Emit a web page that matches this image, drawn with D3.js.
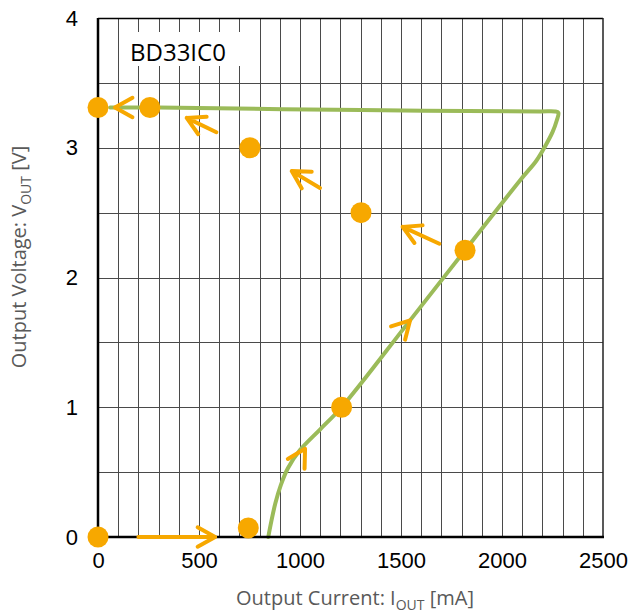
<!DOCTYPE html>
<html>
<head>
<meta charset="utf-8">
<script src="https://cdn.jsdelivr.net/npm/d3@7"></script>
<style>
  body { margin: 0; background: #fff; }
  svg { display: block; }
</style>
</head>
<body>
<div id="chart"></div>
<script>
// green trace (I_OUT mA, V_OUT V), drawn in sweep order
const traceI = [843, 858, 878, 905, 940, 1000, 1100, 1206, 1540, 1817, 2090, 2170, 2213, 2250, 2271, 2279, 2262, 2188, 1300, 300, 60]
const traceV = [0, 0.12, 0.26, 0.4, 0.53, 0.67, 0.83, 1.0, 1.66, 2.21, 2.75, 2.9, 3.01, 3.12, 3.21, 3.27, 3.28, 3.28, 3.29, 3.31, 3.31]

// orange measurement dots
const dotI = [0, 744, 1206, 1817, 1302, 752, 257, 0]
const dotV = [0, 0.07, 1.0, 2.21, 2.5, 3.0, 3.31, 3.31]

// arrows: from -> to (tip), shaft drawn or only the head
const arrowFrom = [[200, 0], [976, 0.55], [1478, 1.56], [180, 3.31], [586, 3.12], [1099, 2.69], [1690, 2.26]]
const arrowTo = [[580, 0], [1025, 0.68], [1545, 1.67], [84, 3.31], [439, 3.23], [959, 2.82], [1508, 2.39]]
const arrowShaft = [true, false, false, false, true, true, true]

const xTicks = [0, 500, 1000, 1500, 2000, 2500]
const yTicks = [0, 1, 2, 3, 4]
const label = 'BD33IC0'

const width = 630
const height = 615
const margin = { top: 18, left: 98, right: 27, bottom: 78 }
const w = width - margin.left - margin.right
const h = height - margin.top - margin.bottom

const green = '#9bbb59'
const orange = '#f7a800'

const svg = d3.select('#chart')
  .append('svg')
  .attr('width', width)
  .attr('height', height)

const g = svg.append('g')
  .attr('transform', `translate(${margin.left},${margin.top})`)

const x = d3.scaleLinear().domain([0, 2500]).range([0, w])
const y = d3.scaleLinear().domain([0, 4]).range([h, 0])

// grid
g.append('g')
  .selectAll('line')
  .data(d3.range(100, 2500, 100))
  .join('line')
  .attr('x1', d => Math.round(x(d)) + 0.5)
  .attr('x2', d => Math.round(x(d)) + 0.5)
  .attr('y1', 0)
  .attr('y2', h)
  .attr('stroke', '#4a4a4a')
  .attr('stroke-width', 1)

g.append('g')
  .selectAll('line')
  .data(d3.range(0.5, 4, 0.5))
  .join('line')
  .attr('x1', 0)
  .attr('x2', w)
  .attr('y1', d => Math.round(y(d)) + 0.5)
  .attr('y2', d => Math.round(y(d)) + 0.5)
  .attr('stroke', '#4a4a4a')
  .attr('stroke-width', 1)

// label box
g.append('rect')
  .attr('x', 21)
  .attr('y', 14)
  .attr('width', 121)
  .attr('height', 34)
  .attr('fill', '#fff')

g.append('text')
  .attr('x', 32)
  .attr('y', 43)
  .attr('font-family', 'Open Sans, sans-serif')
  .attr('font-size', 24)
  .attr('fill', '#000')
  .text(label)

// frame
g.append('line').attr('x1', 0).attr('x2', w).attr('y1', 0.5).attr('y2', 0.5)
  .attr('stroke', '#000').attr('stroke-width', 1.5)
g.append('line').attr('x1', w).attr('x2', w).attr('y1', 0).attr('y2', h)
  .attr('stroke', '#222').attr('stroke-width', 1.5)

// trace
const line = d3.line()
  .x((d, i) => x(traceI[i]))
  .y((d, i) => y(traceV[i]))
  .curve(d3.curveCatmullRom.alpha(0.5))

g.append('path')
  .datum(traceI)
  .attr('d', line)
  .attr('fill', 'none')
  .attr('stroke', green)
  .attr('stroke-width', 4)
  .attr('stroke-linecap', 'round')
  .attr('stroke-linejoin', 'round')

// axes lines
g.append('line').attr('x1', 0).attr('x2', 0).attr('y1', 0).attr('y2', h + 1)
  .attr('stroke', '#000').attr('stroke-width', 2.5)
g.append('line').attr('x1', -1).attr('x2', w + 1).attr('y1', h).attr('y2', h)
  .attr('stroke', '#000').attr('stroke-width', 2.5)

// arrows
const headLen = 20
const spread = 29 * Math.PI / 180
const arrows = g.append('g')
  .attr('fill', 'none')
  .attr('stroke', orange)
  .attr('stroke-width', 4)
  .attr('stroke-linecap', 'round')
  .attr('stroke-linejoin', 'round')

arrowTo.forEach((t, i) => {
  const f = arrowFrom[i]
  const tx = x(t[0]); const ty = y(t[1])
  const fx = x(f[0]); const fy = y(f[1])
  const back = Math.atan2(fy - ty, fx - tx)
  const a1 = [tx + headLen * Math.cos(back - spread), ty + headLen * Math.sin(back - spread)]
  const a2 = [tx + headLen * Math.cos(back + spread), ty + headLen * Math.sin(back + spread)]
  let d = `M${a1[0]},${a1[1]}L${tx},${ty}L${a2[0]},${a2[1]}`
  if (arrowShaft[i]) d += `M${fx},${fy}L${tx},${ty}`
  arrows.append('path').attr('d', d)
})

// dots
g.append('g')
  .selectAll('circle')
  .data(dotI)
  .join('circle')
  .attr('cx', (d, i) => x(dotI[i]))
  .attr('cy', (d, i) => y(dotV[i]))
  .attr('r', 10.5)
  .attr('fill', orange)

// tick labels
const xAxis = g.append('g')
  .attr('transform', `translate(0,${h})`)
  .call(d3.axisBottom(x).tickValues(xTicks).tickSize(0).tickPadding(15).tickFormat(d3.format('d')))
xAxis.select('.domain').remove()
xAxis.selectAll('text')
  .attr('font-family', 'Liberation Sans, Arial, sans-serif')
  .attr('font-size', 22)
  .attr('fill', '#000')

const yAxis = g.append('g')
  .call(d3.axisLeft(y).tickValues(yTicks).tickSize(0).tickPadding(20).tickFormat(d3.format('d')))
yAxis.select('.domain').remove()
yAxis.selectAll('text')
  .attr('font-family', 'Liberation Sans, Arial, sans-serif')
  .attr('font-size', 22)
  .attr('fill', '#000')

// axis titles
const xt = svg.append('text')
  .attr('x', 355)
  .attr('y', 605)
  .attr('text-anchor', 'middle')
  .attr('font-family', 'Open Sans, sans-serif')
  .attr('font-size', 20)
  .attr('fill', '#595959')
xt.append('tspan').text('Output Current: I')
xt.append('tspan').attr('font-size', 14).attr('dy', 5).text('OUT')
xt.append('tspan').attr('dy', -5).text(' [mA]')

const yt = svg.append('text')
  .attr('transform', 'translate(26,257) rotate(-90)')
  .attr('text-anchor', 'middle')
  .attr('font-family', 'Open Sans, sans-serif')
  .attr('font-size', 20)
  .attr('fill', '#595959')
yt.append('tspan').text('Output Voltage: V')
yt.append('tspan').attr('font-size', 14).attr('dy', 5).text('OUT')
yt.append('tspan').attr('dy', -5).text(' [V]')
</script>
</body>
</html>
